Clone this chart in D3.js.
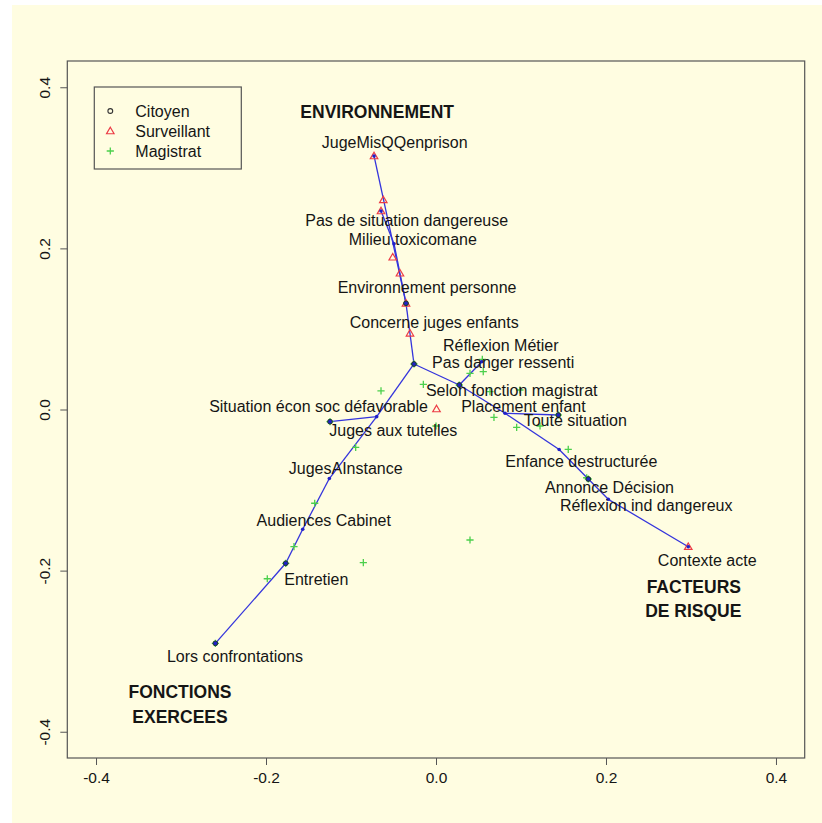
<!DOCTYPE html>
<html>
<head>
<meta charset="utf-8">
<script src="https://cdn.jsdelivr.net/npm/d3@7"></script>
<style>
  html, body { margin: 0; padding: 0; background: #ffffff; }
  svg { display: block; }
  text { font-family: "Liberation Sans", Arial, Helvetica, sans-serif; fill: #151515; }
</style>
</head>
<body>
<svg id="chart" width="822" height="823"></svg>
<script>
// ---- data (factor-plane coordinates) ----
const nodes = [
  { id: "centre",         x: -0.0259, y:  0.0565 },
  { id: "JugeMisQQ",      x: -0.0729, y:  0.3147 },
  { id: "EnvPersonne",    x: -0.0353, y:  0.1318 },
  { id: "PasSituation",   x: -0.0647, y:  0.2464 },
  { id: "MilieuTox",      x: -0.0494, y:  0.2058 },
  { id: "JugesTutelles",  x: -0.0698, y: -0.0089 },
  { id: "SituationEcon",  x: -0.1247, y: -0.0151 },
  { id: "JugesAInstance", x: -0.1255, y: -0.0857 },
  { id: "Audiences",      x: -0.1568, y: -0.1487 },
  { id: "Entretien",      x: -0.1768, y: -0.1909 },
  { id: "Confrontations", x: -0.2596, y: -0.2903 },
  { id: "SelonFonction",  x:  0.0274, y:  0.0304 },
  { id: "ReflexMetier",   x:  0.0538, y:  0.0593 },
  { id: "Placement",      x:  0.0812, y: -0.0047 },
  { id: "ToutSituation",  x:  0.1439, y: -0.0068 },
  { id: "Enfance",        x:  0.1449, y: -0.0497 },
  { id: "Annonce",        x:  0.1792, y: -0.0863 },
  { id: "ReflexInd",      x:  0.2027, y: -0.1115 },
  { id: "Contexte",       x:  0.2968, y: -0.1703 }
];

const edges = [
  ["centre", "EnvPersonne"], ["EnvPersonne", "JugeMisQQ"],
  ["EnvPersonne", "MilieuTox"], ["MilieuTox", "PasSituation"],
  ["centre", "JugesTutelles"], ["JugesTutelles", "SituationEcon"],
  ["JugesTutelles", "JugesAInstance"], ["JugesAInstance", "Audiences"],
  ["Audiences", "Entretien"], ["Entretien", "Confrontations"],
  ["centre", "SelonFonction"], ["SelonFonction", "ReflexMetier"],
  ["SelonFonction", "Placement"], ["Placement", "ToutSituation"],
  ["Placement", "Enfance"], ["Enfance", "Annonce"],
  ["Annonce", "ReflexInd"], ["ReflexInd", "Contexte"]
];

// Citoyen points
const citoyenX = [-0.0259, -0.0353, -0.1247, 0.0274, 0.1439, -0.1768, -0.2596, 0.1792];
const citoyenY = [ 0.0565,  0.1318, -0.0151, 0.0304, -0.0068, -0.1909, -0.2903, -0.0863];

// Surveillant points
const surveillantX = [-0.0729, -0.0620, -0.0647, -0.0509, -0.0424, -0.0353, -0.0306, 0.0006, 0.2968];
const surveillantY = [ 0.3147,  0.2601,  0.2464,  0.1890,  0.1691,  0.1318,  0.0946, 0.0006, -0.1703];

// Magistrat points
const magistratX = [-0.0149, -0.0647, 0.0000, -0.0945, 0.0545, 0.0556, 0.0400, 0.0635, 0.0988,
                     0.0682, 0.0949, 0.1224, 0.1556, -0.1427, -0.1671, -0.1985, -0.0855, 0.0400,
                     0.1773, -0.0259, 0.0274, 0.1439, 0.1792, -0.1768, -0.2596, -0.1247];
const magistratY = [ 0.0313, 0.0230, -0.0205, -0.0469, 0.0623, 0.0469, 0.0449, 0.0221, 0.0242,
                    -0.0097, -0.0221, -0.0205, -0.0494, -0.1164, -0.1703, -0.2101, -0.1902, -0.1620,
                    -0.0847, 0.0565, 0.0304, -0.0068, -0.0863, -0.1909, -0.2903, -0.0151];

// Modality labels
const labelText = [
  "JugeMisQQenprison", "Pas de situation dangereuse", "Milieu toxicomane",
  "Environnement personne", "Concerne juges enfants", "Réflexion Métier",
  "Pas danger ressenti", "Selon fonction magistrat", "Situation écon soc défavorable",
  "Placement enfant", "Toute situation", "Juges aux tutelles", "JugesAInstance",
  "Enfance destructurée", "Annonce Décision", "Réflexion ind dangereux",
  "Audiences Cabinet", "Entretien", "Contexte acte", "Lors confrontations"
];
const labelX = [-0.0486, -0.0345, -0.0273, -0.0105, -0.0021, 0.0762, 0.0791, 0.0891, -0.1382,
                 0.1029, 0.1639, -0.0502, -0.1062, 0.1709, 0.2041, 0.2473, -0.1321, -0.1408,
                 0.3191, -0.2365];
const labelY = [ 0.3312, 0.2353, 0.2113, 0.1517, 0.1083, 0.0801, 0.0586, 0.0242, 0.0035,
                 0.0043, -0.0130, -0.0255, -0.0730, -0.0648, -0.0971, -0.1194, -0.1381, -0.2104,
                -0.1868, -0.3060];

// Group titles
const groupText = ["ENVIRONNEMENT", "FACTEURS", "DE RISQUE", "FONCTIONS", "EXERCEES"];
const groupX = [-0.0692, 0.3033, 0.3027, -0.3012, -0.3012];
const groupY = [ 0.3697, -0.2200, -0.2498, -0.3507, -0.3817];

// Axes
const tickValues = [-0.4, -0.2, 0.0, 0.2, 0.4];
const legendNames = ["Citoyen", "Surveillant", "Magistrat"];

// ---- drawing ----
const svg = d3.select("#chart");
const box = { left: 67.3, right: 804.7, top: 61, bottom: 758 };

svg.append("rect").attr("x", 12).attr("y", 5).attr("width", 810).attr("height", 818)
  .attr("fill", "#fffde1");

const x = d3.scaleLinear().domain([-0.4338, 0.4338]).range([box.left, box.right]);
const y = d3.scaleLinear().domain([-0.4326, 0.4326]).range([box.bottom, box.top]);

const fmt = v => d3.format(".1f")(v).replace("\u2212", "-");

// x axis
const xAxis = svg.append("g").attr("transform", `translate(0,${box.bottom})`)
  .call(d3.axisBottom(x).tickValues(tickValues).tickFormat(fmt).tickSize(7).tickPadding(7));
xAxis.select(".domain").remove();
xAxis.selectAll("line").attr("stroke", "#555");
xAxis.selectAll("text").attr("font-size", 15.5).attr("fill", "#151515")
  .attr("font-family", "Liberation Sans, Arial, sans-serif");

// y axis with rotated labels
const yAxis = svg.append("g").attr("transform", `translate(${box.left},0)`)
  .call(d3.axisLeft(y).tickValues(tickValues).tickFormat(fmt).tickSize(7));
yAxis.select(".domain").remove();
yAxis.selectAll("line").attr("stroke", "#555");
yAxis.selectAll("text")
  .attr("font-size", 15.5).attr("fill", "#151515")
  .attr("font-family", "Liberation Sans, Arial, sans-serif")
  .attr("x", null).attr("dy", null)
  .attr("text-anchor", "middle")
  .attr("transform", "translate(-17,0) rotate(-90)");

// plot frame
svg.append("rect")
  .attr("x", box.left).attr("y", box.top)
  .attr("width", box.right - box.left).attr("height", box.bottom - box.top)
  .attr("fill", "none").attr("stroke", "#555").attr("stroke-width", 1.2);

// tree edges
const byId = new Map(nodes.map(d => [d.id, d]));
svg.append("g").selectAll("line").data(edges).join("line")
  .attr("x1", d => x(byId.get(d[0]).x)).attr("y1", d => y(byId.get(d[0]).y))
  .attr("x2", d => x(byId.get(d[1]).x)).attr("y2", d => y(byId.get(d[1]).y))
  .attr("stroke", "#3434dc").attr("stroke-width", 1.3);

// Magistrat: green plus
const plusPath = s => `M${-s},0H${s}M0,${-s}V${s}`;
svg.append("g").selectAll("path").data(d3.range(magistratX.length)).join("path")
  .attr("transform", i => `translate(${x(magistratX[i])},${y(magistratY[i])})`)
  .attr("d", plusPath(3.6))
  .attr("stroke", "#4cd04c").attr("stroke-width", 1.3).attr("fill", "none");

// Surveillant: red open triangles
const triPath = s => `M0,${-s * 0.75}L${s * 0.75},${s * 0.55}L${-s * 0.75},${s * 0.55}Z`;
svg.append("g").selectAll("path").data(d3.range(surveillantX.length)).join("path")
  .attr("transform", i => `translate(${x(surveillantX[i])},${y(surveillantY[i])})`)
  .attr("d", triPath(5))
  .attr("stroke", "#ec3b45").attr("stroke-width", 1.2).attr("fill", "none");

// Citoyen: dark circles
svg.append("g").selectAll("circle").data(d3.range(citoyenX.length)).join("circle")
  .attr("cx", i => x(citoyenX[i])).attr("cy", i => y(citoyenY[i]))
  .attr("r", 2.4).attr("fill", "#1f4a3c").attr("stroke", "#1a3a30").attr("stroke-width", 1);

// tree nodes
svg.append("g").selectAll("circle").data(nodes).join("circle")
  .attr("cx", d => x(d.x)).attr("cy", d => y(d.y))
  .attr("r", 1.8).attr("fill", "#2020c8");

// modality labels
svg.append("g").selectAll("text").data(d3.range(labelText.length)).join("text")
  .attr("x", i => x(labelX[i])).attr("y", i => y(labelY[i]))
  .attr("dy", "0.35em").attr("text-anchor", "middle").attr("font-size", 16)
  .text(i => labelText[i]);

// group titles
svg.append("g").selectAll("text").data(d3.range(groupText.length)).join("text")
  .attr("x", i => x(groupX[i])).attr("y", i => y(groupY[i]))
  .attr("dy", "0.35em").attr("text-anchor", "middle")
  .attr("font-size", 17.5).attr("font-weight", "bold")
  .text(i => groupText[i]);

// legend
const lg = svg.append("g").attr("transform", `translate(${box.left + 27},${box.top + 26})`);
lg.append("rect").attr("width", 147).attr("height", 82)
  .attr("fill", "none").attr("stroke", "#555").attr("stroke-width", 1.2);
const item = lg.selectAll("g").data(legendNames).join("g")
  .attr("transform", (d, i) => `translate(16,${24 + i * 20})`);
item.append("text").attr("x", 25).attr("dy", "0.35em").attr("font-size", 16).text(d => d);
item.filter((d, i) => i === 0).append("circle").attr("r", 2.4)
  .attr("fill", "none").attr("stroke", "#333").attr("stroke-width", 1.1);
item.filter((d, i) => i === 1).append("path").attr("d", triPath(5))
  .attr("fill", "none").attr("stroke", "#ec3b45").attr("stroke-width", 1.2);
item.filter((d, i) => i === 2).append("path").attr("d", plusPath(3.6))
  .attr("fill", "none").attr("stroke", "#4cd04c").attr("stroke-width", 1.3);
</script>
</body>
</html>
